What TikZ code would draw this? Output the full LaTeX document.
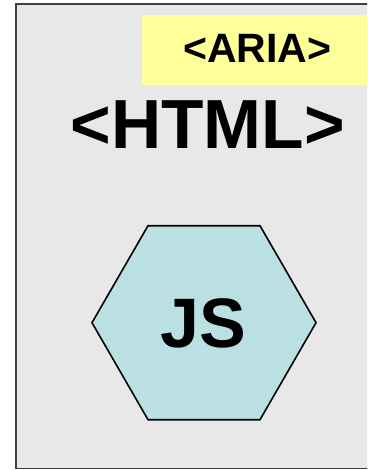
\documentclass[tikz,border=0pt]{standalone}
\usepackage{fontspec}
\setmainfont{Liberation Sans}
\usetikzlibrary{shapes.geometric}
\definecolor{panelgray}{HTML}{E8E8E8}
\definecolor{ariayellow}{HTML}{FFFF99}
\definecolor{jsblue}{HTML}{BAE0E3}
\tikzset{
  lbl/.style={font=\bfseries\fontsize{#1}{#1}\selectfont, inner sep=0pt},
  hexa/.style={regular polygon, regular polygon sides=6, minimum size=224pt,
    inner sep=0pt, draw=black, line width=1.6pt, fill=jsblue}
}
\begin{document}
\begin{tikzpicture}[x=1pt,y=-1pt]
\useasboundingbox (0,0) rectangle (367,470);
\clip (0,0) rectangle (367,470);
\fill[white] (0,0) rectangle (367,470);
\filldraw[fill=panelgray, draw=black!75, line width=1.8pt] (16,4) rectangle (390,468.5);
\fill[ariayellow] (141.5,15) rectangle (380,85.5);
\node[lbl=41] (aria) at (257.5,48.8) {<ARIA>};
\node[lbl=69.5] (html) at (207.5,125) {<HTML>};
\node[hexa] (hex) at (204,322.7) {};
\node[lbl=70] (js) at (203,323.5) {JS};
\end{tikzpicture}
\end{document}
